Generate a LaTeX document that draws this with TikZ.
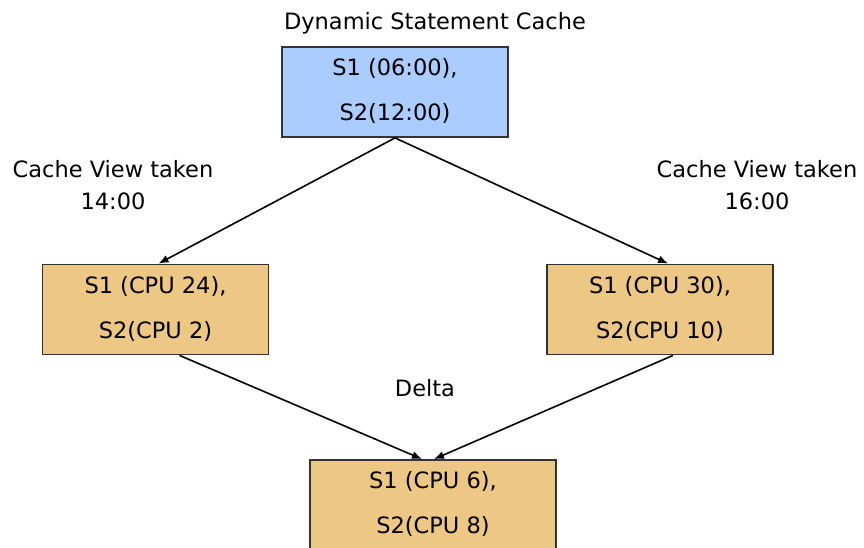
\documentclass[tikz,border=0pt]{standalone}
\usepackage{fontspec}
\setmainfont{DejaVu Sans}
\usepackage{xcolor}
\usetikzlibrary{shapes,arrows,arrows.meta}
\definecolor{cacheblue}{RGB}{170,204,255}
\definecolor{viewtan}{RGB}{237,200,132}

\tikzset{
  cachebox/.style = {draw=black!80, line width=1.8pt, minimum width=226pt,
    minimum height=90pt, align=center, inner sep=0pt,
    text height=57pt, text depth=0pt,
    font=\fontsize{22.5}{45}\selectfont},
  plainlabel/.style = {align=center, inner sep=0pt,
    font=\fontsize{22.5}{32}\selectfont},
  flow/.style = {-{Latex[length=10pt,width=8pt]}, line width=1.6pt}
}

\begin{document}
\begin{tikzpicture}[x=1pt, y=-1pt]
\clip (0,0) rectangle (864,547);

\node[plainlabel] (title) at (435,23) {Dynamic Statement Cache};
\node[cachebox, fill=cacheblue] (cache) at (395,92) {S1 (06:00),\\S2(12:00)};

\node[plainlabel] (view14) at (113,185) {Cache View taken\\14:00};
\node[plainlabel] (view16) at (757,185) {Cache View taken\\16:00};
\node[cachebox, fill=viewtan] (snap14) at (155.5,309.5) {S1 (CPU 24),\\S2(CPU 2)};
\node[cachebox, fill=viewtan] (snap16) at (660,309.5) {S1 (CPU 30),\\S2(CPU 10)};

\node[plainlabel] (delta) at (425,388) {Delta};
\node[cachebox, fill=viewtan, minimum width=246pt] (diff) at (433,505) {S1 (CPU 6),\\S2(CPU 8)};

% snapshots taken from the cache
\draw[flow] (cache.south) -- ([xshift=3pt]snap14.north);
\draw[flow] (cache.south) -- ([xshift=8pt]snap16.north);

% difference of the two snapshots
\draw[flow] ([xshift=24pt]snap14.south) -- ([xshift=-11pt]diff.north);
\draw[flow] ([xshift=13pt]snap16.south) -- ([xshift=1pt]diff.north);

\end{tikzpicture}
\end{document}
